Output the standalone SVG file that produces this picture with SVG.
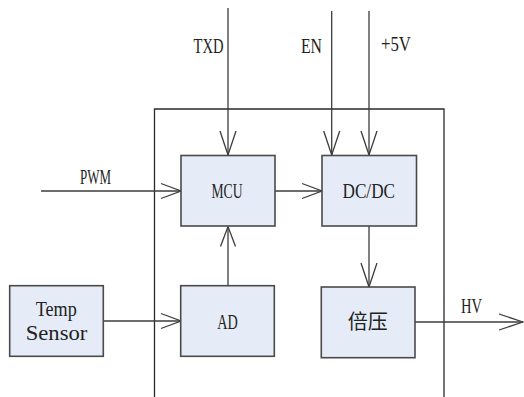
<svg xmlns="http://www.w3.org/2000/svg" width="524" height="397" viewBox="0 0 524 397">
<style>
.box{fill:#e6ecf7;stroke:#4a4a4a;stroke-width:1.6}
.ln{fill:none;stroke:#3c3c3c;stroke-width:1.3}
.frame{fill:none;stroke:#2a2a2a;stroke-width:1.3}
</style>
<defs>
<marker id="av" markerUnits="userSpaceOnUse" markerWidth="30" markerHeight="20" viewBox="-25 -10 30 20" refX="0" refY="0" orient="auto">
<path d="M-24,-8 L0,0 L-24,8" fill="none" stroke="#3c3c3c" stroke-width="1.3"/>
</marker>
<marker id="ah" markerUnits="userSpaceOnUse" markerWidth="30" markerHeight="20" viewBox="-25 -10 30 20" refX="0" refY="0" orient="auto">
<path d="M-20,-7.5 L0,0 L-20,7.5" fill="none" stroke="#3c3c3c" stroke-width="1.3"/>
</marker>
</defs>
<g id="frame">
<path class="frame" d="M154.5,397 V109 H444 V397"/>
</g>
<g id="connectors">
<path class="ln" d="M228,8 V155" marker-end="url(#av)"/>
<path class="ln" d="M331.7,11 V155" marker-end="url(#av)"/>
<path class="ln" d="M369,11 V155" marker-end="url(#av)"/>
<path class="ln" d="M41,191 H181" marker-end="url(#ah)"/>
<path class="ln" d="M275,191 H322" marker-end="url(#ah)"/>
<path class="ln" d="M228,286 V226.5" marker-end="url(#ah)"/>
<path class="ln" d="M369,226 V287" marker-end="url(#av)"/>
<path class="ln" d="M103.5,321 H181" marker-end="url(#ah)"/>
<path class="ln" d="M415,322 H523" marker-end="url(#av)"/>
</g>
<g id="labels" font-family="Liberation Serif, DejaVu Serif, serif" font-size="22" fill="#222">
<text x="193.5" y="53" textLength="30" lengthAdjust="spacingAndGlyphs">TXD</text>
<text x="301" y="53" textLength="21" lengthAdjust="spacingAndGlyphs">EN</text>
<text x="381" y="51" textLength="30" lengthAdjust="spacingAndGlyphs">+5V</text>
<text x="80" y="184" textLength="31" lengthAdjust="spacingAndGlyphs">PWM</text>
<text x="461" y="313" textLength="21" lengthAdjust="spacingAndGlyphs">HV</text>
</g>
<g id="mcu" font-family="Liberation Serif, DejaVu Serif, serif" font-size="22" fill="#222">
<rect class="box" x="181" y="155.5" width="94" height="70.5"/>
<text x="211.5" y="197.5" textLength="31" lengthAdjust="spacingAndGlyphs">MCU</text>
</g>
<g id="dcdc" font-family="Liberation Serif, DejaVu Serif, serif" font-size="22" fill="#222">
<rect class="box" x="322" y="155.5" width="94.5" height="70.5"/>
<text x="342.5" y="197.5" textLength="52.5" lengthAdjust="spacingAndGlyphs">DC/DC</text>
</g>
<g id="temp" font-family="Liberation Serif, DejaVu Serif, serif" font-size="22" fill="#222">
<rect class="box" x="9.7" y="285.7" width="93.6" height="70.6"/>
<text x="35.7" y="315.5" textLength="41" lengthAdjust="spacingAndGlyphs">Temp</text>
<text x="25.7" y="340" textLength="61.6" lengthAdjust="spacingAndGlyphs">Sensor</text>
</g>
<g id="ad" font-family="Liberation Serif, DejaVu Serif, serif" font-size="22" fill="#222">
<rect class="box" x="180.7" y="285.7" width="93.6" height="70.6"/>
<text x="217.3" y="328.5" textLength="20.5" lengthAdjust="spacingAndGlyphs">AD</text>
</g>
<g id="doubler" font-family="Noto Sans CJK SC, sans-serif" font-size="20" fill="#222">
<rect class="box" x="321.3" y="287" width="93.7" height="70.7"/>
<text x="347.7" y="329">倍压</text>
</g>
</svg>
